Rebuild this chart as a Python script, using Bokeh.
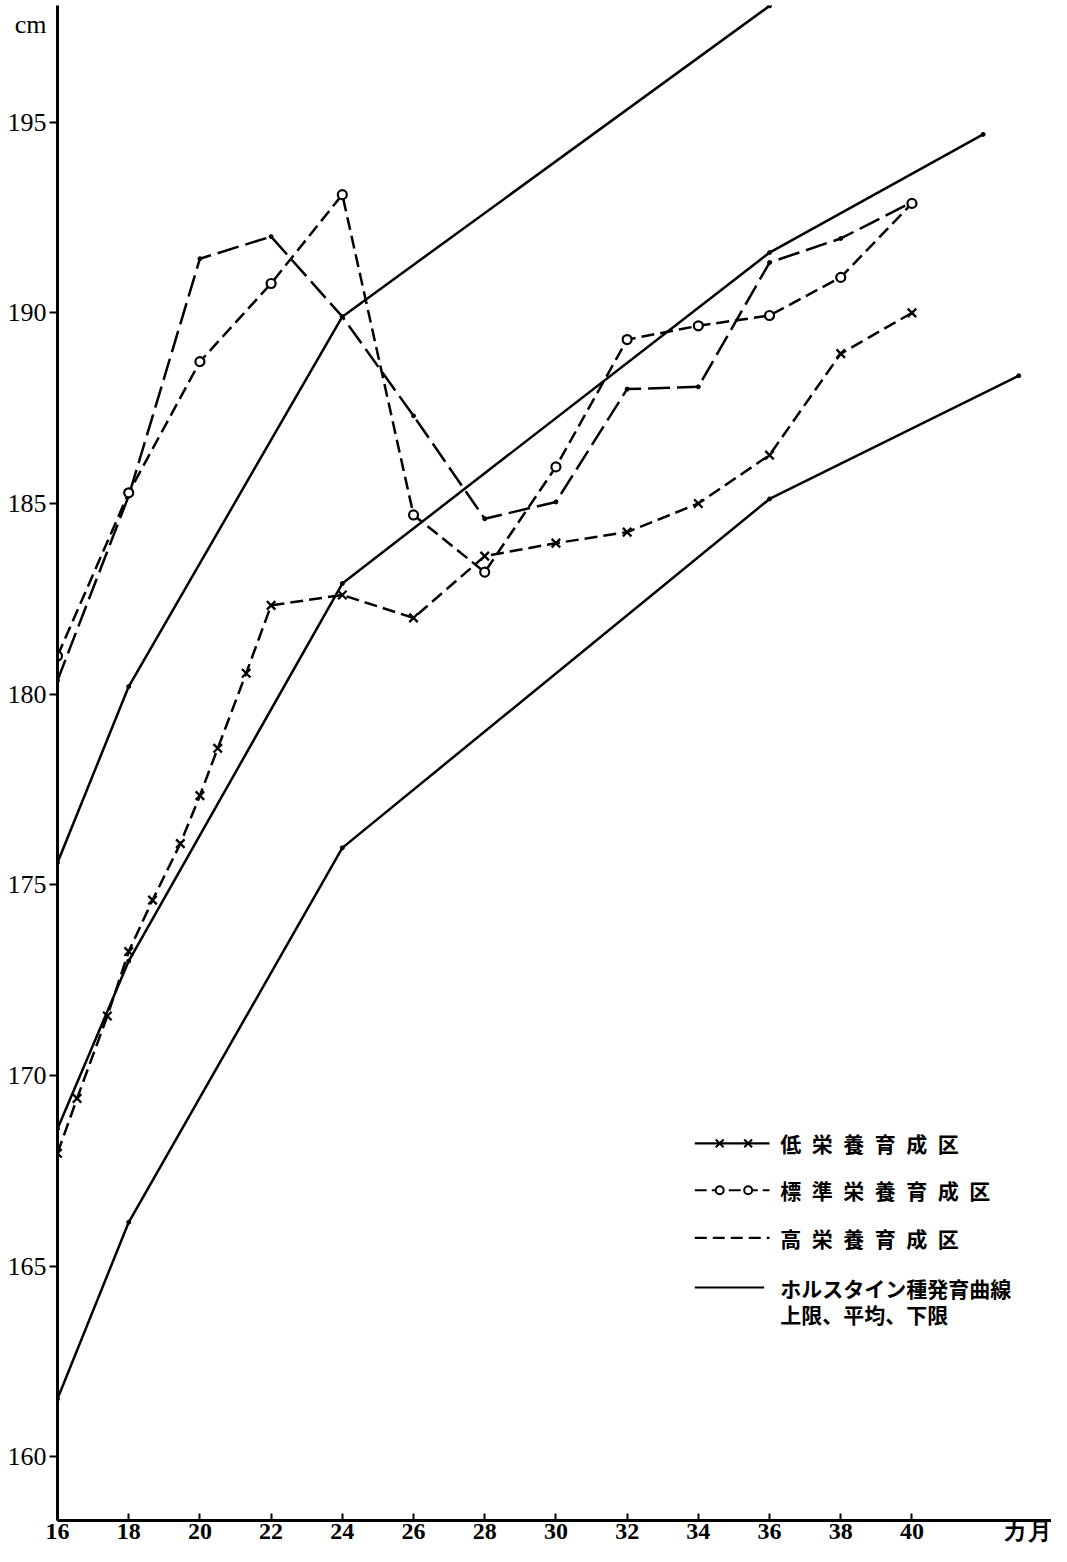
from bokeh.plotting import figure
from bokeh.models import FixedTicker, Range1d
from bokeh.core.properties import value
from bokeh.embed import file_html
from bokeh.resources import INLINE

# ---- data (months vs. cm) ----
x_ticks = [16, 18, 20, 22, 24, 26, 28, 30, 32, 34, 36, 38, 40]
y_ticks = [160, 165, 170, 175, 180, 185, 190, 195]
x_unit_pos, x_unit_text = 43.25, "カ月"   # unit caption at the end of the x axis
y_unit_pos, y_unit_text = 197.55, "cm"   # unit caption at the top of the y axis

low_m = [16, 16.55, 17.4, 18, 18.67, 19.45, 20.0, 20.5, 21.3, 22, 24, 26, 28, 30, 32, 34, 36, 38, 40]
low_v = [167.96, 169.4, 171.56, 173.25, 174.6, 176.08, 177.34, 178.58, 180.55, 182.33,
         182.6, 182.0, 183.62, 183.96, 184.25, 185.0, 186.27, 188.93, 190.0]

std_m = [16, 18, 20, 22, 24, 26, 28, 30, 32, 34, 36, 38, 40]
std_v = [181.0, 185.28, 188.72, 190.77, 193.1, 184.7, 183.2, 185.96, 189.3, 189.66, 189.93, 190.93, 192.87]

high_m = [16, 18, 20, 22, 24, 26, 28, 30, 32, 34, 36, 38, 40]
high_v = [180.36, 185.2, 191.42, 192.0, 189.9, 187.3, 184.6, 185.04, 188.0, 188.06, 191.32, 191.95, 192.9]

upper_m = [16, 18, 24, 36]
upper_v = [175.58, 180.2, 189.9, 198.05]
mean_m = [16, 18, 24, 36, 42]
mean_v = [168.6, 173.0, 182.9, 191.58, 194.68]
lower_m = [16, 18, 24, 36, 43]
lower_v = [161.52, 166.15, 175.97, 185.12, 188.35]

leg_labels = ["低\u2002栄\u2002養\u2002育\u2002成\u2002区",
              "標\u2002準\u2002栄\u2002養\u2002育\u2002成\u2002区",
              "高\u2002栄\u2002養\u2002育\u2002成\u2002区",
              "ホルスタイン種発育曲線",
              "上限、平均、下限"]

p = figure(width=1051, height=1546, output_backend="svg", toolbar_location=None,
           x_range=Range1d(16, 43.92), y_range=Range1d(158.33, 198.06),
           min_border_left=57, min_border_right=0, min_border_top=5, min_border_bottom=24)
p.outline_line_color = None
p.xgrid.visible = False
p.ygrid.visible = False
p.background_fill_color = "white"

LW = 2.5
# growth curves (solid): upper, mean, lower
for m, v in [(upper_m, upper_v), (mean_m, mean_v), (lower_m, lower_v)]:
    p.line(m, v, line_color="black", line_width=LW)
    p.scatter(m, v, marker="circle", size=4, fill_color="black", line_color="black")

# high nutrition (long dash, small dots)
p.line(high_m, high_v, line_color="black", line_width=LW, line_dash="22 7")
p.scatter(high_m, high_v, marker="circle", size=4, fill_color="black", line_color="black")

# standard nutrition (dash, open circles)
p.line(std_m, std_v, line_color="black", line_width=LW, line_dash="13 6")
p.scatter(std_m, std_v, marker="circle", size=9, fill_color="white", line_color="black", line_width=2.2)

# low nutrition (dash, x)
p.line(low_m, low_v, line_color="black", line_width=LW, line_dash="13 6")
p.scatter(low_m, low_v, marker="x", size=12, line_color="black", line_width=2.3)

# ---- legend (layout positions in data units) ----
lx0, lx1 = 33.9, 36.0
mk = [34.6, 35.4]
rows = [168.22, 166.99, 165.74, 164.44]
tx = 36.3
p.line([lx0, lx1], [rows[0], rows[0]], line_color="black", line_width=2.2)
p.scatter(mk, [rows[0]] * 2, marker="x", size=11, line_color="black", line_width=2)
p.line([lx0, lx1], [rows[1], rows[1]], line_color="black", line_width=2.2, line_dash="12 5")
p.scatter(mk, [rows[1]] * 2, marker="circle", size=8, fill_color="white", line_color="black", line_width=2)
p.line([lx0, lx1], [rows[2], rows[2]], line_color="black", line_width=2.2, line_dash="12 6")
p.line([lx0, lx1 - 0.15], [rows[3], rows[3]], line_color="black", line_width=2.2)
p.text([tx] * 5, [rows[0], rows[1], rows[2], rows[3], rows[3] - 0.7], text=leg_labels,
       text_font=value("Noto Sans CJK JP"), text_font_size="21px", text_font_style="bold",
       text_baseline="middle", text_align="left", text_color="black")

# ---- axes ----
# major ticks carry the labels (incl. unit captions), minor ticks draw the tick marks
p.xaxis.ticker = FixedTicker(ticks=x_ticks + [x_unit_pos], minor_ticks=x_ticks)
p.yaxis.ticker = FixedTicker(ticks=y_ticks + [y_unit_pos], minor_ticks=y_ticks)
p.xaxis.major_label_overrides = {x_unit_pos: x_unit_text}
p.yaxis.major_label_overrides = {y_unit_pos: y_unit_text}
for ax in (p.xaxis, p.yaxis):
    ax.axis_line_width = 3
    ax.axis_line_color = "black"
    ax.major_tick_line_color = None
    ax.major_tick_in = 0
    ax.major_tick_out = 0
    ax.minor_tick_line_color = "black"
    ax.minor_tick_line_width = 2
    ax.major_label_text_font = "Liberation Serif"
    ax.major_label_text_color = "black"
p.xaxis.minor_tick_in = 7
p.xaxis.minor_tick_out = 0
p.xaxis.major_label_standoff = -3
p.xaxis.major_label_text_font_size = "24px"
p.xaxis.major_label_text_font_style = "bold"
p.yaxis.minor_tick_in = 0
p.yaxis.minor_tick_out = 8
p.yaxis.major_label_standoff = 3
p.yaxis.major_label_text_font_size = "26px"

open("out.html", "w").write(file_html(p, INLINE))
